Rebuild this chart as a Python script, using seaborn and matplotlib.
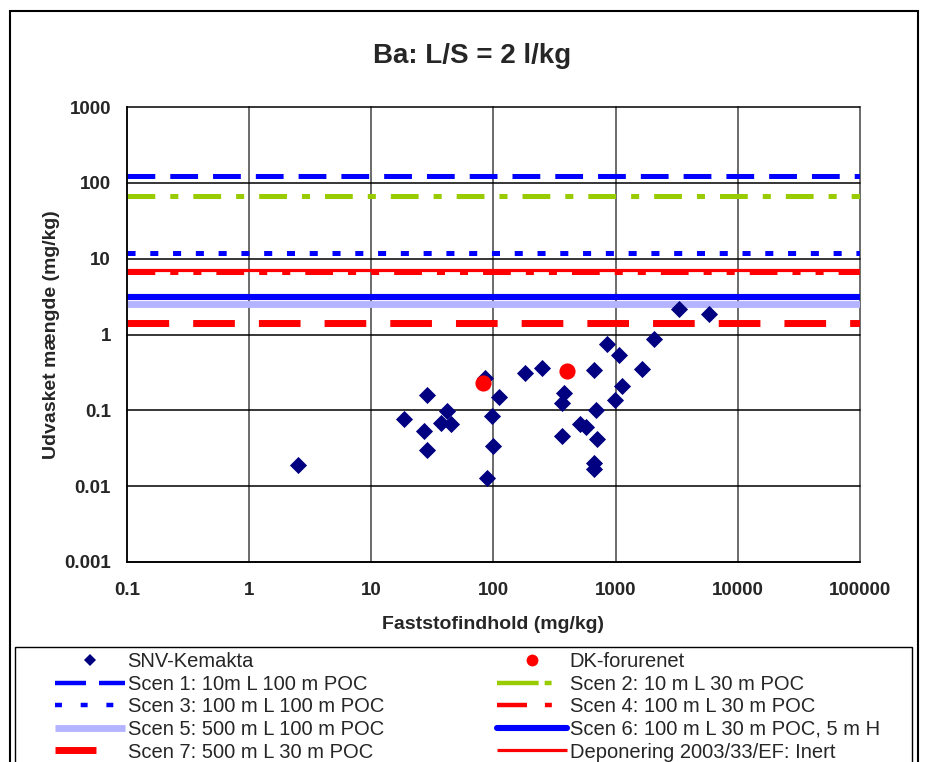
import matplotlib
matplotlib.use("Agg")
import matplotlib.pyplot as plt
import matplotlib.ticker as mticker
from matplotlib.patches import Rectangle
from matplotlib.lines import Line2D
import seaborn as sns
import numpy as np

# ---------------- data ----------------
snv_x = [2.5, 18.6, 28.3, 26.9, 28.5, 41.3, 37.2, 44.8, 85, 110.7, 96.4, 98.9, 87.7,
         180.7, 249, 377, 367, 367, 509, 570, 659, 689, 697, 659, 659, 847, 1069,
         1117, 984, 1648, 2056, 3275, 5834]
snv_y = [0.019, 0.077, 0.158, 0.054, 0.030, 0.099, 0.068, 0.067, 0.27, 0.149, 0.084,
         0.034, 0.013, 0.31, 0.36, 0.167, 0.126, 0.046, 0.066, 0.061, 0.34, 0.10,
         0.042, 0.020, 0.017, 0.75, 0.53, 0.21, 0.136, 0.35, 0.86, 2.14, 1.89]
dk_x = [81.5, 399]
dk_y = [0.226, 0.328]

line_x = [0.1, 100000]
scen_labels = ["Scen 1: 10m L 100 m POC", "Scen 2: 10 m L 30 m POC",
               "Scen 3: 100 m L 100 m POC", "Scen 4: 100 m L 30 m POC",
               "Scen 5: 500 m L 100 m POC", "Scen 6: 100 m L 30 m POC, 5 m H",
               "Scen 7: 500 m L 30 m POC", "Deponering 2003/33/EF: Inert"]
scen_values = [122, 67, 12.0, 6.7, 2.55, 3.1, 1.43, 7.0]

x_ticks = [0.1, 1, 10, 100, 1000, 10000, 100000]
x_tick_labels = ["0.1", "1", "10", "100", "1000", "10000", "100000"]
y_ticks = [0.001, 0.01, 0.1, 1, 10, 100, 1000]
y_tick_labels = ["0.001", "0.01", "0.1", "1", "10", "100", "1000"]

# ---------------- styles ----------------
scen_styles = [
    dict(color="#0000FF", lw=3.6, dashes=[20, 10.8], leg_dashes=[22.3, 9.4], leg_lw=3.2),
    dict(color="#99CC00", lw=3.6, dashes=[20, 10.8, 5.8, 10.8], leg_dashes=[30, 4.3, 5.0, 20], leg_lw=3.2),
    dict(color="#0000FF", lw=3.6, dashes=[5.8, 10.6], leg_dashes=[5.0, 13.5], leg_lw=3.2),
    dict(color="#FF0000", lw=3.6, dashes=[20, 10.8, 5.8, 10.8, 5.8, 10.8], leg_dashes=[21.6, 12.9, 5.0, 20], leg_lw=3.2),
    dict(color="#B3B3FF", lw=4.9, dashes=None, leg_dashes=None, leg_lw=4.9),
    dict(color="#0000FF", lw=4.4, dashes=None, leg_dashes=None, leg_lw=4.4),
    dict(color="#FF0000", lw=5.0, dashes=[30, 17.3], leg_dashes=[29.5, 40], leg_lw=5.0),
    dict(color="#FF0000", lw=2.3, dashes=None, leg_dashes=None, leg_lw=2.3),
]

sns.set_style("white")
plt.rcParams["font.family"] = ["Liberation Sans", "DejaVu Sans"]
plt.rcParams["lines.scale_dashes"] = False

fig = plt.figure(figsize=(9.28, 7.62), dpi=100)
ax = fig.add_axes([127 / 928, 1 - 562 / 762, 733 / 928, 455 / 762])

handles = []
for lab, val, st in zip(scen_labels, scen_values, scen_styles):
    sns.lineplot(x=line_x, y=[val, val], ax=ax, color=st["color"],
                 linewidth=st["lw"], label=lab, legend=False)
    ln = ax.lines[-1]
    cap = "round" if lab.startswith("Scen 6") else "butt"
    if st["dashes"] is not None:
        ln.set_dashes(st["dashes"])
        ln.set_dash_capstyle("butt")
    else:
        ln.set_solid_capstyle(cap)
    ln.set_zorder(2)
    h = Line2D([], [], color=st["color"], lw=st["leg_lw"], solid_capstyle=cap,
               dash_capstyle="butt")
    if st["leg_dashes"] is not None:
        h.set_dashes(st["leg_dashes"])
    handles.append(h)

sns.scatterplot(x=snv_x, y=snv_y, ax=ax, marker="D", s=76, color="#000080",
                linewidth=0, zorder=3, legend=False)
sns.scatterplot(x=dk_x, y=dk_y, ax=ax, marker="o", s=135, color="#FF0000",
                linewidth=0, zorder=4, legend=False)

ax.set_xscale("log")
ax.set_yscale("log")
ax.set_xlim(0.1, 100000)
ax.set_ylim(0.001, 1000)
ax.xaxis.set_major_locator(mticker.FixedLocator(x_ticks))
ax.xaxis.set_major_formatter(mticker.FixedFormatter(x_tick_labels))
ax.yaxis.set_major_locator(mticker.FixedLocator(y_ticks))
ax.yaxis.set_major_formatter(mticker.FixedFormatter(y_tick_labels))
ax.xaxis.set_minor_locator(mticker.NullLocator())
ax.yaxis.set_minor_locator(mticker.NullLocator())

ax.yaxis.grid(True, color="black", lw=1.1, zorder=1)
ax.xaxis.grid(True, color="#6a6a6a", lw=1.4, zorder=1)
ax.set_axisbelow(True)
for s in ["top", "right"]:
    ax.spines[s].set_visible(False)
for s in ["left", "bottom"]:
    ax.spines[s].set_color("black")
    ax.spines[s].set_linewidth(1.2)

ax.tick_params(axis="both", which="major", direction="out", length=4.5,
               width=1.1, color="black", labelsize=13.5)
ax.tick_params(axis="x", pad=10)
ax.tick_params(axis="y", pad=7)
for t in ax.get_xticklabels() + ax.get_yticklabels():
    t.set_fontweight("bold")
for gl in ax.get_xgridlines() + ax.get_ygridlines():
    gl.set_clip_on(False)

ax.set_xlabel("Faststofindhold (mg/kg)", fontsize=14, fontweight="bold")
ax.set_ylabel("Udvasket mængde (mg/kg)", fontsize=14, fontweight="bold")
ax.xaxis.set_label_coords(0.5, -0.118)
ax.yaxis.set_label_coords(-0.091, 0.5)

fig.text(472 / 928, 1 - 56 / 762, "Ba: L/S = 2 l/kg", ha="center", va="center",
         fontsize=20, fontweight="bold")

# outer chart border and legend frame
fig.patches.append(Rectangle((10 / 928, -0.05), 908 / 928, 1.05 - 11 / 762,
                             transform=fig.transFigure, fill=False,
                             edgecolor="black", lw=1.5, zorder=0))
fig.patches.append(Rectangle((15 / 928, -0.05), 897 / 928, 0.05 + 1 - 647 / 762,
                             transform=fig.transFigure, fill=False,
                             edgecolor="black", lw=1.0, zorder=0))

snv_h = Line2D([], [], marker="D", color="#000080", ls="none", markersize=6.5,
               markeredgewidth=0)
dk_h = Line2D([], [], marker="o", color="#FF0000", ls="none", markersize=8.5,
              markeredgewidth=0)

leg_kw = dict(frameon=False, loc="upper left", borderpad=0, borderaxespad=0,
              fontsize=14.5, handlelength=3.5, handletextpad=0.1,
              labelspacing=0.18)
col1_h = [snv_h, handles[0], handles[2], handles[4], handles[6]]
col1_l = ["SNV-Kemakta", scen_labels[0], scen_labels[2], scen_labels[4], scen_labels[6]]
col2_h = [dk_h, handles[1], handles[3], handles[5], handles[7]]
col2_l = ["DK-forurenet", scen_labels[1], scen_labels[3], scen_labels[5], scen_labels[7]]

leg1 = fig.legend(col1_h, col1_l, bbox_to_anchor=(55 / 928, 1 - 652 / 762), **leg_kw)
leg2 = fig.legend(col2_h, col2_l, bbox_to_anchor=(497 / 928, 1 - 652 / 762), **leg_kw)

fig.savefig("out.png", dpi=100)
